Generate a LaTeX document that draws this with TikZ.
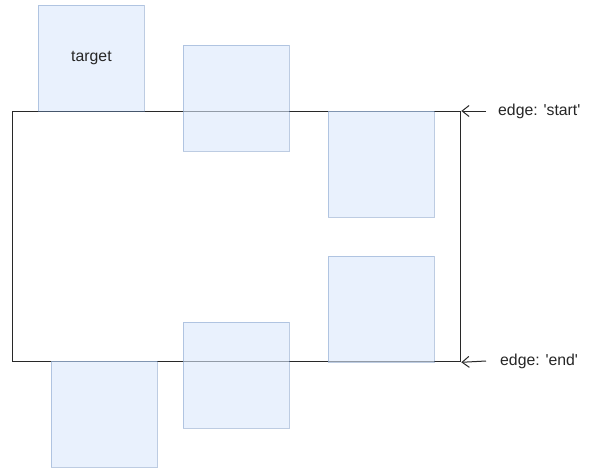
\documentclass[tikz,border=0pt]{standalone}
\usepackage{fontspec}
\setmainfont{Liberation Sans}
\usetikzlibrary{arrows.meta}
\definecolor{boxfill}{RGB}{218,232,252}
\definecolor{boxline}{RGB}{108,142,191}
\definecolor{frameline}{RGB}{40,40,40}
\tikzset{
  frame/.style={draw=frameline, line width=1.3pt, fill=none, inner sep=0pt},
  bluebox/.style={draw=boxline, draw opacity=0.45, fill=boxfill, fill opacity=0.6,
    line width=0.9pt, minimum width=106pt, minimum height=106pt, inner sep=0pt,
    text opacity=1, anchor=north west},
  lbl/.style={font=\fontsize{15.8pt}{18pt}\selectfont, text=black!85, inner sep=0pt},
  pointer/.style={draw=frameline, line width=1pt, -{Straight Barb[length=7pt,width=11pt]}}
}
\begin{document}
\begin{tikzpicture}[x=1pt,y=-1pt]
\useasboundingbox (0,0) rectangle (607,474);
\node[frame, minimum width=448pt, minimum height=250pt, anchor=north west] (frm) at (12,111) {};
\node[bluebox] (b1) at (38,5) {};
\node[lbl] (t1) at (b1.center) {target};
\node[bluebox] (b2) at (183,45) {};
\node[bluebox] (b3) at (328,111) {};
\node[bluebox] (b4) at (328,256) {};
\node[bluebox] (b5) at (183,322) {};
\node[bluebox] (b6) at (51,361) {};
\coordinate (ps) at (486,111);
\coordinate (pe) at (486,361);
\node[lbl, anchor=west] (ls) at (498,111) {edge: \textquotesingle start\textquotesingle};
\node[lbl, anchor=west] (le) at (500,361) {edge: \textquotesingle end\textquotesingle};
\draw[pointer] (ps) -- (frm.north east);
\draw[pointer] (pe) -- (frm.south east);
\end{tikzpicture}
\end{document}
